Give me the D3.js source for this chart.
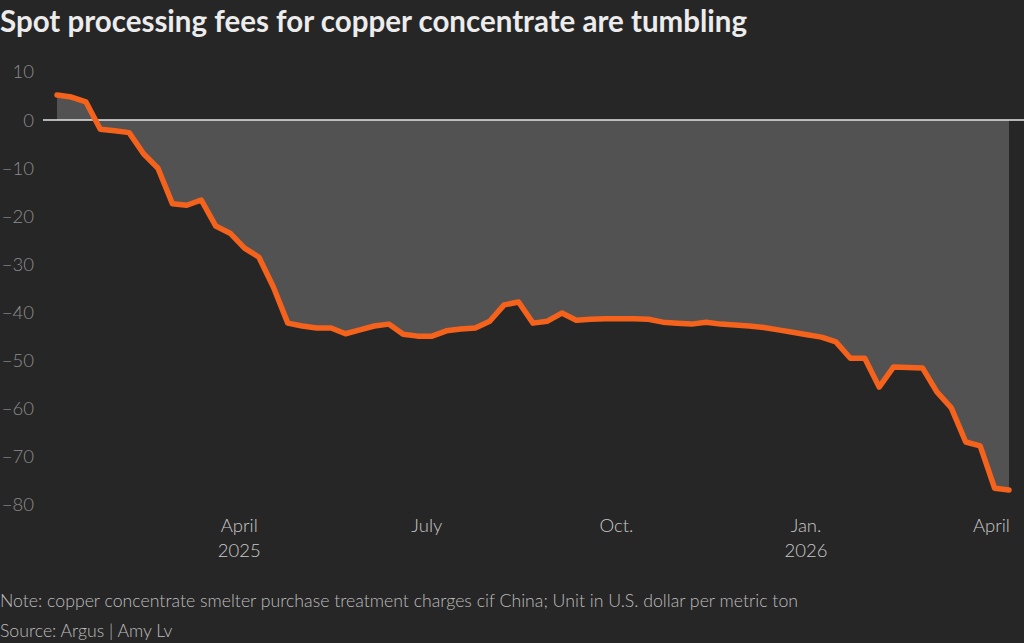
<!DOCTYPE html>
<html lang="en">
<head>
  <meta charset="UTF-8">
  <title>Spot processing fees for copper concentrate</title>
  <script src="https://d3js.org/d3.v7.min.js"></script>
  <style>
    html, body { margin: 0; padding: 0; background: #262626; }
    svg { display: block; }
  </style>
</head>
<body>
  <div id="chart"></div>
  <script>
    // weekly spot treatment charges, $/t
    const dates = [
      "2025-01-03","2025-01-10","2025-01-17","2025-01-24","2025-01-31",
      "2025-02-07","2025-02-14","2025-02-21","2025-02-28",
      "2025-03-07","2025-03-14","2025-03-21","2025-03-28",
      "2025-04-04","2025-04-11","2025-04-18","2025-04-25",
      "2025-05-02","2025-05-09","2025-05-16","2025-05-23","2025-05-30",
      "2025-06-06","2025-06-13","2025-06-20","2025-06-27",
      "2025-07-04","2025-07-11","2025-07-18","2025-07-25",
      "2025-08-01","2025-08-08","2025-08-15","2025-08-22","2025-08-29",
      "2025-09-05","2025-09-12","2025-09-19","2025-09-26",
      "2025-10-03","2025-10-10","2025-10-17","2025-10-24","2025-10-31",
      "2025-11-07","2025-11-14","2025-11-21","2025-11-28",
      "2025-12-05","2025-12-12","2025-12-19","2025-12-26",
      "2026-01-02","2026-01-09","2026-01-16","2026-01-23","2026-01-30",
      "2026-02-06","2026-02-13","2026-02-20","2026-02-27",
      "2026-03-06","2026-03-13","2026-03-20","2026-03-27",
      "2026-04-03","2026-04-10"
    ];
    const fees = [
      5.2, 4.8, 3.8, -1.9, -2.2, -2.6, -7.0, -10.0, -17.4, -17.7,
      -16.6, -22.0, -23.5, -26.6, -28.5, -34.7, -42.2, -42.8, -43.2, -43.2,
      -44.4, -43.6, -42.8, -42.4, -44.5, -44.9, -44.9, -43.8, -43.4, -43.2,
      -41.8, -38.4, -37.8, -42.2, -41.8, -40.1, -41.6, -41.4, -41.3, -41.3,
      -41.3, -41.4, -42.0, -42.2, -42.4, -42.0, -42.4, -42.6, -42.8, -43.1,
      -43.6, -44.1, -44.6, -45.1, -46.1, -49.5, -49.5, -55.5, -51.3, -51.4,
      -51.5, -56.5, -59.8, -66.9, -67.7, -76.5, -76.9
    ];
    const yTicks = [10, 0, -10, -20, -30, -40, -50, -60, -70, -80];
    const xTickDates = ["2025-04-01", "2025-07-01", "2025-10-01", "2026-01-01", "2026-04-01"];
    const xTickLabels = [["April", "2025"], ["July"], ["Oct."], ["Jan.", "2026"], ["April"]];

    const width = 1024, height = 643;
    const parse = d3.timeParse("%Y-%m-%d");
    const data = dates.map((d, i) => ({ date: parse(d), value: fees[i] }));

    const svg = d3.select("#chart").append("svg")
      .attr("width", width)
      .attr("height", height);

    svg.append("rect")
      .attr("width", width).attr("height", height)
      .attr("fill", "#262626");

    const x = d3.scaleTime()
      .domain(d3.extent(data, d => d.date))
      .range([57, 1009]);

    const y = d3.scaleLinear()
      .domain([-80, 10])
      .range([505, 72]);

    // title
    svg.append("text")
      .attr("x", 0).attr("y", 32)
      .attr("font-family", "Lato, sans-serif")
      .attr("font-weight", "bold")
      .attr("font-size", 29.5)
      .attr("fill", "#ececec")
      .text("Spot processing fees for copper concentrate are tumbling");

    // y axis labels
    const yAxis = d3.axisLeft(y)
      .tickValues(yTicks)
      .tickSize(0)
      .tickPadding(0)
      .tickFormat(d => d < 0 ? "\u2212" + Math.abs(d) : d);

    svg.append("g")
      .attr("transform", "translate(34,0)")
      .call(yAxis)
      .call(g => g.select(".domain").remove())
      .selectAll("text")
      .attr("font-family", "Lato, sans-serif")
      .attr("font-weight", 300)
      .attr("font-size", 18.5)
      .attr("fill", "#8c8c8c");

    // area between line and zero
    const area = d3.area()
      .x(d => x(d.date))
      .y0(y(0))
      .y1(d => y(d.value));

    svg.append("path")
      .datum(data)
      .attr("d", area)
      .attr("fill", "#525252");

    // zero line
    svg.append("line")
      .attr("x1", 43).attr("x2", width)
      .attr("y1", y(0)).attr("y2", y(0))
      .attr("stroke", "#e6e6e6")
      .attr("stroke-width", 1.5);

    const line = d3.line()
      .x(d => x(d.date))
      .y(d => y(d.value));

    svg.append("path")
      .datum(data)
      .attr("d", line)
      .attr("fill", "none")
      .attr("stroke", "#f5621c")
      .attr("stroke-width", 5.5)
      .attr("stroke-linejoin", "round")
      .attr("stroke-linecap", "round");

    // x axis labels
    const xAxisG = svg.append("g").attr("class", "x-axis");
    xTickDates.forEach((d, i) => {
      const t = xAxisG.append("text")
        .attr("x", x(parse(d)) + 1)
        .attr("y", 532)
        .attr("text-anchor", "middle")
        .attr("font-family", "Lato, sans-serif")
        .attr("font-weight", 300)
        .attr("font-size", 18.5)
        .attr("fill", "#c8c8c8");
      xTickLabels[i].forEach((s, j) => {
        t.append("tspan")
          .attr("x", x(parse(d)) + 1)
          .attr("dy", j === 0 ? 0 : 25)
          .text(s);
      });
    });

    // notes
    svg.append("text")
      .attr("x", 0).attr("y", 607)
      .attr("font-family", "Lato, sans-serif")
      .attr("font-weight", 300)
      .attr("font-size", 17.7)
      .attr("fill", "#bdbdbd")
      .text("Note: copper concentrate smelter purchase treatment charges cif China; Unit in U.S. dollar per metric ton");

    svg.append("text")
      .attr("x", 0).attr("y", 637)
      .attr("font-family", "Lato, sans-serif")
      .attr("font-weight", 300)
      .attr("font-size", 17.7)
      .attr("fill", "#bdbdbd")
      .text("Source: Argus | Amy Lv");
  </script>
</body>
</html>
